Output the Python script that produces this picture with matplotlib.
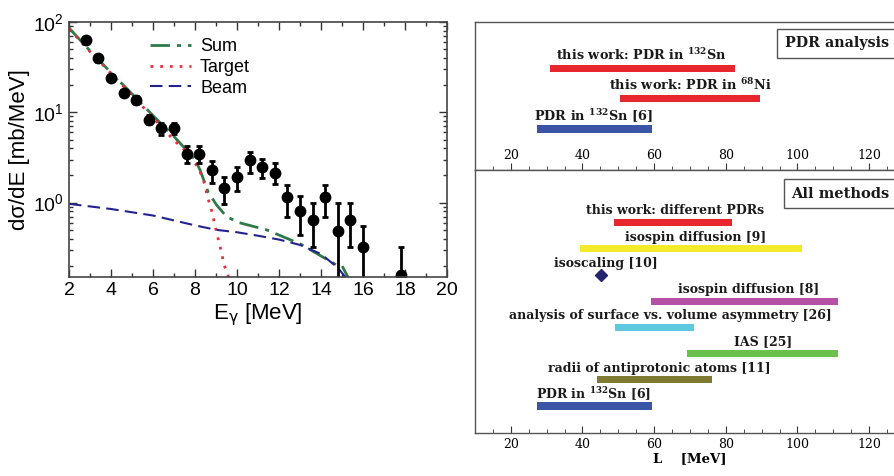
import matplotlib
matplotlib.use('Agg')
import matplotlib.pyplot as plt
from matplotlib.ticker import MultipleLocator, LogLocator, NullFormatter

# ---- left panel: cross section vs gamma energy ----
E = [2.8, 3.4, 4.0, 4.6, 5.2, 5.8, 6.4, 7.0, 7.6, 8.2, 8.8, 9.4,
     10.0, 10.6, 11.2, 11.8, 12.4, 13.0, 13.6, 14.2, 14.8, 15.4, 16.0, 17.8]
sigma = [63, 39.5, 23.9, 16.4, 13.8, 8.3, 6.7, 6.7, 3.47, 3.47, 2.27, 1.47,
         1.94, 2.95, 2.45, 2.12, 1.15, 0.81, 0.64, 1.15, 0.48, 0.64, 0.32, 0.16]
sigma_hi = [68, 42.5, 25.5, 17.8, 15.3, 9.3, 7.7, 7.7, 4.19, 4.19, 2.88, 1.91,
            2.51, 3.62, 3.06, 2.74, 1.58, 1.17, 0.98, 1.58, 0.99, 0.98, 0.55, 0.32]
sigma_lo = [58, 36.5, 22.3, 15.1, 12.4, 7.4, 5.6, 5.8, 2.74, 2.74, 1.67, 0.97,
            1.36, 2.15, 1.88, 1.61, 0.69, 0.44, 0.32, 0.69, 0.1, 0.32, 0.1, 0.1]

sum_x = [2, 3, 4, 5, 6, 7, 8.0, 8.24, 8.63, 9.03, 9.5, 10.1, 11.4, 13.0, 14.8, 15.0, 15.5]
sum_y = [86, 48, 27.5, 16, 9.2, 5.4, 3.0, 2.3, 1.3, 0.94, 0.70, 0.60, 0.50, 0.35, 0.20, 0.20, 0.12]

target_x = [2, 3, 4, 5, 6, 7, 7.8, 8.2, 8.4, 8.6, 8.8, 9.0, 9.2, 9.4, 9.6, 9.8]
target_y = [84, 47, 27, 15.5, 8.7, 4.9, 3.3, 2.3, 1.8, 1.15, 0.8, 0.5, 0.32, 0.2, 0.15, 0.1]

beam_x = [2, 4, 6, 8, 9, 10, 11, 12, 13, 14, 14.8, 15.5]
beam_y = [0.97, 0.85, 0.72, 0.56, 0.5, 0.47, 0.43, 0.39, 0.34, 0.27, 0.19, 0.12]

# ---- right panels: L values ----
top_labels = [r'this work: PDR in $^{\mathbf{132}}$Sn',
              r'this work: PDR in $^{\mathbf{68}}$Ni',
              r'PDR in $^{\mathbf{132}}$Sn [6]']
top_lo = [30.9, 50.4, 27.2]
top_hi = [82.6, 89.6, 59.3]
top_colors = ['#e8262e', '#e8262e', '#3a55a6']
top_text_x = [56.6, 70.2, 43.0]

bot_labels = ['this work: different PDRs', 'isospin diffusion [9]', 'isoscaling [10]',
              'isospin diffusion [8]', 'analysis of surface vs. volume asymmetry [26]',
              'IAS [25]', 'radii of antiprotonic atoms [11]',
              r'PDR in $^{\mathbf{132}}$Sn [6]']
bot_lo = [48.8, 39.3, 45.1, 59.1, 49.2, 69.1, 44.1, 27.2]
bot_hi = [81.6, 101.2, 45.1, 111.2, 71.2, 111.2, 76.2, 59.3]
bot_colors = ['#e8262e', '#f2ea2a', '#24246e', '#b64fa6', '#5ec8de',
              '#6cc04c', '#7e7a32', '#3a55a6']
bot_text_x = [65.8, 71.5, 46.4, 86.5, 64.4, 90.5, 61.5, 43.0]

fig = plt.figure(figsize=(8.94, 4.76), dpi=100)

# left axes
ax = fig.add_axes([0.0772, 0.418, 0.4228, 0.5357])
sans = 'Liberation Sans'
ax.plot(sum_x, sum_y, color='#2f7a48', ls=(0, (7, 2.5, 1.5, 2.5)), lw=2, label='Sum')
ax.plot(target_x, target_y, color='#e8303a', ls=(0, (1, 2.5)), lw=2, label='Target')
ax.plot(beam_x, beam_y, color='#23238f', ls=(0, (6, 3)), lw=1.5, label='Beam')
yerr = [[s - l for s, l in zip(sigma, sigma_lo)], [h - s for s, h in zip(sigma, sigma_hi)]]
ax.errorbar(E, sigma, yerr=yerr, fmt='o', color='black', ms=7.5, elinewidth=2,
            capsize=2.5, capthick=2)
ax.set_yscale('log')
ax.set_xlim(2, 20)
ax.set_ylim(0.15, 100)
ax.xaxis.set_major_locator(MultipleLocator(2))
ax.xaxis.set_minor_locator(MultipleLocator(1))
ax.yaxis.set_minor_locator(LogLocator(base=10, subs=range(2, 10)))
ax.yaxis.set_minor_formatter(NullFormatter())
ax.tick_params(which='both', direction='in', top=True, right=True, labelsize=14,
               color='#333333')
ax.tick_params(which='major', length=6, width=1)
ax.tick_params(which='minor', length=3, width=1)
for lab in ax.get_xticklabels() + ax.get_yticklabels():
    lab.set_fontfamily(sans)
for sp in ax.spines.values():
    sp.set_color('#444444')
    sp.set_linewidth(1.2)
ax.set_xlabel(r'E$_\mathrm{\gamma}$ [MeV]', fontsize=16, family=sans, labelpad=2)
ax.set_ylabel('d\u03c3/dE [mb/MeV]', fontsize=16, family=sans, labelpad=2)
ax.legend(loc='upper left', bbox_to_anchor=(0.17, 1.0), frameon=False,
          prop={'family': sans, 'size': 13}, handlelength=2.3, labelspacing=0.2,
          handletextpad=0.5)

# right axes
serif = 'DejaVu Serif'


def style_panel(a):
    a.set_xlim(10, 130)
    a.xaxis.set_major_locator(MultipleLocator(20))
    a.xaxis.set_minor_locator(MultipleLocator(5))
    a.set_yticks([])
    a.tick_params(axis='x', which='both', direction='in', color='#333333')
    a.tick_params(axis='x', which='major', length=5, labelsize=9)
    a.tick_params(axis='x', which='minor', length=3)
    for lab in a.get_xticklabels():
        lab.set_fontfamily(serif)
    for sp in a.spines.values():
        sp.set_color('#555555')
        sp.set_linewidth(1)


ax1 = fig.add_axes([0.5313, 0.6429, 0.481, 0.3109])
style_panel(ax1)
ax1.tick_params(axis='x', which='major', pad=-15)
ax1.set_ylim(-0.344, 4.51)
for i, (lab, lo, hi, c, tx) in enumerate(zip(top_labels, top_lo, top_hi, top_colors, top_text_x)):
    y = 3 - i
    ax1.barh(y, hi - lo, left=lo, height=0.23, color=c)
    ax1.text(tx, y + 0.43, lab, ha='center', va='center', fontsize=9.3,
             family=serif, weight='bold', color='#1a1a1a', math_fontfamily='dejavuserif')
ax1.text(0.72, 0.855, 'PDR analysis', transform=ax1.transAxes, ha='left', va='center',
         fontsize=10.3, family=serif, weight='bold', color='#1a1a1a',
         bbox=dict(boxstyle='square,pad=0.55', fc='white', ec='#555555', lw=1))

ax2 = fig.add_axes([0.5313, 0.0903, 0.481, 0.5526])
style_panel(ax2)
ax2.set_ylim(-0.03, 10.0)
n = len(bot_labels)
for i, (lab, lo, hi, c, tx) in enumerate(zip(bot_labels, bot_lo, bot_hi, bot_colors, bot_text_x)):
    y = n - i
    if hi > lo:
        ax2.barh(y, hi - lo, left=lo, height=0.27, color=c)
    else:
        ax2.plot(lo, y, marker='D', color=c, ms=6)
    ax2.text(tx, y + 0.44, lab, ha='center', va='center', fontsize=9,
             family=serif, weight='bold', color='#1a1a1a', math_fontfamily='dejavuserif')
ax2.text(0.735, 0.91, 'All methods', transform=ax2.transAxes, ha='left', va='center',
         fontsize=10.5, family=serif, weight='bold', color='#1a1a1a',
         bbox=dict(boxstyle='square,pad=0.5', fc='white', ec='#555555', lw=1))
ax2.set_xlabel('L    [MeV]', fontsize=9.5, family=serif, weight='bold', labelpad=1)

fig.savefig('out.png', dpi=100)
